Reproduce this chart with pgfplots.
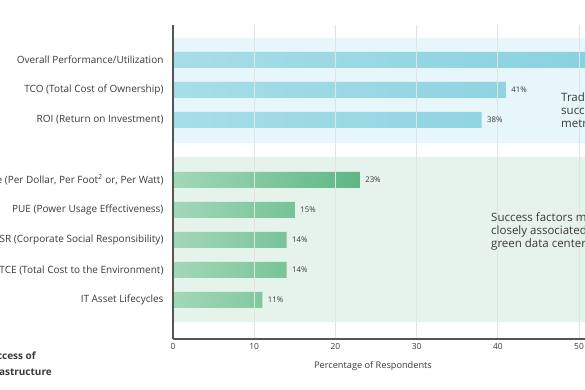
\documentclass[border=0pt]{standalone}
\usepackage{pgfplots}
\pgfplotsset{compat=1.18}
\usepackage{fontspec}
\setmainfont{Open Sans}
\definecolor{txt}{HTML}{3A3A3A}
\definecolor{axisc}{HTML}{555555}
\definecolor{gridc}{HTML}{DCE4E4}
\definecolor{bandblue}{HTML}{E6F6FA}
\definecolor{bandgreen}{HTML}{E6F3EB}
\definecolor{blueL}{HTML}{A6DDE8}
\definecolor{blueR}{HTML}{88D1DF}
\definecolor{greenL}{HTML}{A3D8B8}
\definecolor{greenR}{HTML}{5DB784}
\begin{document}
\begin{tikzpicture}[x=1pt,y=1pt]
\begin{axis}[
  at={(173pt,51pt)}, anchor=south west,
  x=8.12pt, y=30pt,
  xmin=0, xmax=60, ymin=-1.3, ymax=9.17,
  /pgf/number format/assume math mode=true,
  axis x line*=bottom, axis y line*=left,
  axis line style={axisc, line width=1.3pt},
  xtick={0,10,...,60},
  ytick={0,1,2,3,4,6,7,8},
  yticklabels={IT Asset Lifecycles, TCE (Total Cost to the Environment), CSR (Corporate Social Responsibility), PUE (Power Usage Effectiveness), Performance (Per Dollar{,} Per Foot\textsuperscript{2} or{,} Per Watt), ROI (Return on Investment), TCO (Total Cost of Ownership), Overall Performance/Utilization},
  major tick length=0pt,
  tick style={draw=none},
  xmajorgrids, grid style={gridc, line width=0.8pt},
  ticklabel style={font=\fontsize{8.4}{9}\selectfont, text=txt},
  yticklabel style={font=\fontsize{10}{11}\selectfont, xshift=-6pt},
  xticklabel style={yshift=-1pt},
  clip=false,
  axis on top,
  bars/.style={xbar, bar width=16pt, bar shift=0pt, draw=none,
    nodes near coords={\pgfmathprintnumber{\pgfplotspointmeta}\%},
    point meta=x,
    every node near coord/.append style={font=\fontsize{7.8}{8}\selectfont, text=txt, anchor=west, xshift=2pt}},
]
\addplot[fill=bandblue, draw=none, forget plot] coordinates {(0,5.23) (60,5.23) (60,8.73) (0,8.73)} -- cycle;
\addplot[fill=bandgreen, draw=none, forget plot] coordinates {(0,-0.73) (60,-0.73) (60,4.77) (0,4.77)} -- cycle;
\addplot[bars, left color=blueL, right color=blueR] coordinates {(55,8) (41,7) (38,6)};
\addplot[bars, left color=greenL, right color=greenR] coordinates {(23,4) (15,3) (14,2) (14,1) (11,0)};
\end{axis}
\node[font=\fontsize{9.2}{10}\selectfont, text=txt, anchor=base] at (373,21) {Percentage of Respondents};
\node[font=\fontsize{11.5}{13}\selectfont, text=txt, anchor=north west, align=left, inner sep=0pt] at (561,297) {Traditional\\success\\metrics};
\node[font=\fontsize{11.5}{13}\selectfont, text=txt, anchor=north west, align=left, inner sep=0pt] at (491,177) {Success factors more\\closely associated with\\green data centers};
\node[font=\bfseries\fontsize{10}{11}\selectfont, text=txt, anchor=base east, inner sep=0pt] at (36,30) {Metrics Used to Measure Success of};
\node[font=\bfseries\fontsize{10}{11}\selectfont, text=txt, anchor=base east, inner sep=0pt] at (52,14) {Data Center Infrastructure};
\pgfresetboundingbox
\path[use as bounding box] (0,0) rectangle (585,390);
\end{tikzpicture}
\end{document}
